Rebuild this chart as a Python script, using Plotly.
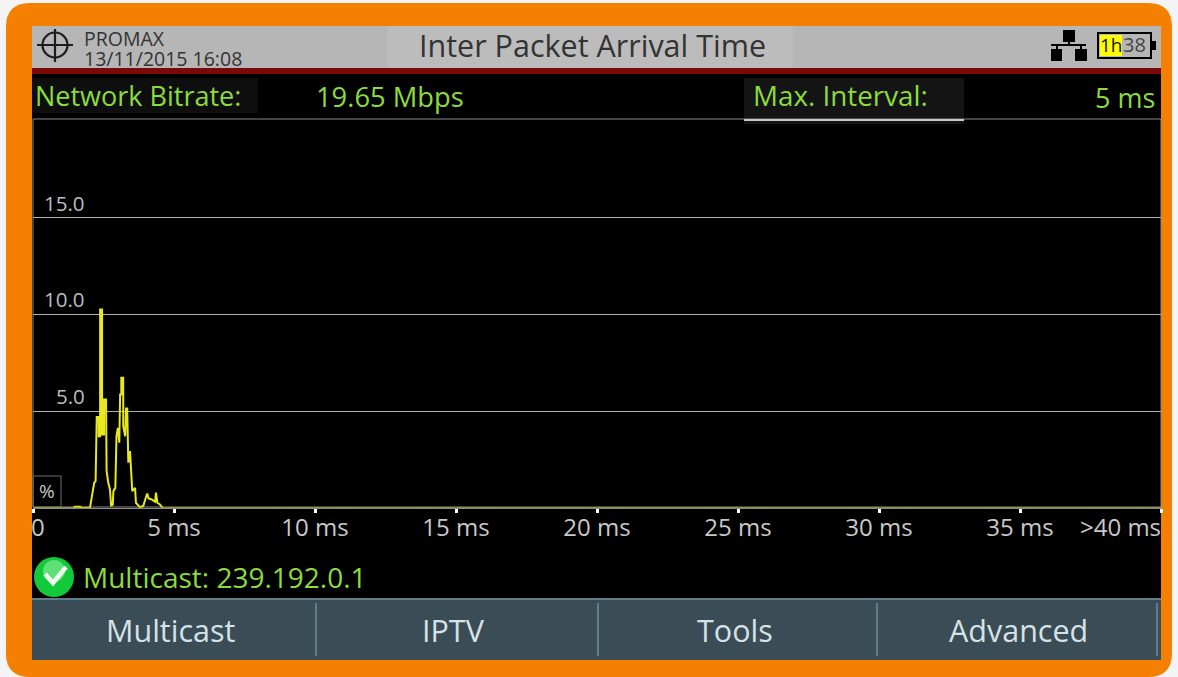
import plotly.graph_objects as go

W, H = 1178, 677
FONT = "Open Sans"
GREEN = "#8bdc3c"

delay_ms = [1.43, 1.49, 1.67, 1.73, 2.02, 2.06, 2.12, 2.17, 2.22, 2.26, 2.26, 2.33, 2.33, 2.38, 2.38, 2.45, 2.45,
            2.52, 2.52, 2.59, 2.59, 2.61, 2.67, 2.73, 2.77, 2.83, 2.85, 2.92, 2.96, 3.01, 3.06, 3.09, 3.13, 3.13,
            3.20, 3.20, 3.27, 3.30, 3.34, 3.38, 3.44, 3.48, 3.52, 3.62, 3.65, 3.79, 3.91, 4.00, 4.05, 4.10, 4.21,
            4.33, 4.36, 4.41, 4.50, 4.59]
percent = [0, 0.05, 0.05, 0, 0, 0.34, 0.78, 1.29, 1.38, 3.62, 4.69, 4.69, 3.70, 3.70, 10.25, 10.25, 3.79,
           3.79, 5.60, 5.60, 3.45, 1.90, 1.29, 0.95, 0.09, 0.17, 0.86, 1.03, 3.70, 4.13, 3.36, 5.86, 5.86, 6.72,
           6.72, 4.22, 3.70, 5.13, 5.13, 2.33, 2.93, 1.64, 0.86, 1.03, 0.26, 0.03, 0.09, 0.52, 0.74, 0.48, 0.43,
           0.31, 0.78, 0.26, 0.17, 0]
baseline_ms = [0, 1.43, None, 4.59, 40]
baseline_percent = [0, 0, None, 0, 0]
tick_vals = [5, 10, 15, 20, 25, 30, 35]
tick_text = ["5 ms", "10 ms", "15 ms", "20 ms", "25 ms", "30 ms", "35 ms"]
y_ticks = [5, 10, 15]
y_labels = ["5.0", "10.0", "15.0"]
menu_labels = ["Multicast", "IPTV", "Tools", "Advanced"]
menu_centres = [171, 454, 735, 1018]
menu_separators = [316, 598, 877, 1157]


def X(p):
    return p / W


def Y(p):
    return 1 - p / H


def rect(x0, y0, x1, y1, fill, line=None, lw=1, layer="below"):
    return dict(type="rect", xref="paper", yref="paper", x0=X(x0), x1=X(x1), y0=Y(y0), y1=Y(y1),
                fillcolor=fill, line=dict(color=line or fill, width=lw if line else 0), layer=layer)


def seg(x0, y0, x1, y1, color, lw=1, layer="below"):
    return dict(type="line", xref="paper", yref="paper", x0=X(x0), x1=X(x1), y0=Y(y0), y1=Y(y1),
                line=dict(color=color, width=lw), layer=layer)


def circle(cx, cy, r, fill, line=None, lw=1, layer="above"):
    return dict(type="circle", xref="paper", yref="paper", x0=X(cx - r), x1=X(cx + r), y0=Y(cy + r), y1=Y(cy - r),
                fillcolor=fill, line=dict(color=line or fill, width=lw if line else 0), layer=layer)


def rounded(x0, y0, x1, y1, r, fill):
    def P(a, b):
        return f"{X(a)} {Y(b)}"
    path = (f"M {P(x0 + r, y0)} L {P(x1 - r, y0)} Q {P(x1, y0)} {P(x1, y0 + r)} "
            f"L {P(x1, y1 - r)} Q {P(x1, y1)} {P(x1 - r, y1)} L {P(x0 + r, y1)} "
            f"Q {P(x0, y1)} {P(x0, y1 - r)} L {P(x0, y0 + r)} Q {P(x0, y0)} {P(x0 + r, y0)} Z")
    return dict(type="path", xref="paper", yref="paper", path=path, fillcolor=fill, line=dict(width=0), layer="below")


def label(x, y, text, size, color, anchor="left", font=FONT):
    return dict(xref="paper", yref="paper", x=X(x), y=Y(y), text=text, showarrow=False, xanchor=anchor,
                yanchor="middle", font=dict(family=font, size=size, color=color), borderpad=0)


shapes = [
    rounded(6, 3, 1172, 677, 24, "#f47f00"),
    rect(32, 26, 1161, 68, "#b6b6b6"),
    rect(387, 26, 793, 70, "#bcbcbc"),
    rect(32, 68, 1161, 74, "#7a0a0a"),
    rect(32, 74, 1161, 598, "#000000"),
    rect(32, 78, 258, 113, "#0e0e0e"),
    rect(744, 78, 964, 124, "#141414"),
    rect(32, 598, 1161, 660, "#3a4c55"),
    seg(32, 599, 1161, 599, "#5f7d8b", 2),
    rect(33, 119, 1161, 507, "rgba(0,0,0,0)", "#8a8a8a", 1),
    seg(744, 120, 964, 120, "#c8c8c8", 2),
    rect(33, 476, 61, 507, "rgba(0,0,0,0)", "#6e6e6e", 1),
    # crosshair icon
    circle(55, 45, 12.5, "rgba(0,0,0,0)", "#1c1c1c", 2.2),
    seg(55, 29, 55, 62, "#1c1c1c", 2.2, "above"),
    seg(37, 45, 73, 45, "#1c1c1c", 2.2, "above"),
    # network icon
    rect(1063, 30, 1075, 42, "#000000", layer="above"),
    rect(1051, 49, 1062, 61, "#000000", layer="above"),
    rect(1075, 49, 1087, 61, "#000000", layer="above"),
    seg(1069, 42, 1069, 45, "#000000", 2, "above"),
    seg(1051, 45, 1086, 45, "#000000", 2, "above"),
    seg(1057, 45, 1057, 49, "#000000", 2, "above"),
    seg(1081, 45, 1081, 49, "#000000", 2, "above"),
    # battery icon
    rect(1098, 33, 1151, 58, "#b6b6b6", "#000000", 2, "above"),
    rect(1100, 35, 1122, 56, "#ffff00", layer="above"),
    rect(1151, 41, 1156, 50, "#000000", layer="above"),
    # status icon
    circle(54, 577, 20, "#12c93a"),
    circle(54, 571, 11, "#5fe074"),
    dict(type="path", xref="paper", yref="paper",
         path=f"M {X(45)} {Y(574)} L {X(53)} {Y(583)} L {X(66)} {Y(567)}",
         line=dict(color="#f0fff0", width=4.5), fillcolor="rgba(0,0,0,0)", layer="above"),
]
shapes += [seg(s, 603, s, 656, "#5f7d8b", 2) for s in menu_separators]

annotations = [
    label(83, 38, "PROMAX", 19.5, "#333333"),
    label(83, 58, "13/11/2015 16:08", 19.5, "#333333"),
    label(592, 45, "Inter Packet Arrival Time", 30.5, "#333333", "center"),
    label(1099, 45, "1h", 19, "#111111"),
    label(1122, 45, "38", 20, "#444444"),
    label(34, 95, "Network Bitrate:", 27, GREEN),
    label(315, 96, "19.65 Mbps", 27.3, GREEN),
    label(752, 95, "Max. Interval:", 27.8, GREEN),
    label(1156, 97, "5 ms", 27, GREEN, "right"),
    label(47, 491, "%", 19, "#c8c8c8", "center"),
    label(82, 577, "Multicast: 239.192.0.1", 28, GREEN),
    label(38, 526, "0", 24, "#c8c8c8", "center"),
    label(1162, 526, "&gt;40 ms", 24, "#c8c8c8", "right"),
]
for v, t in zip(y_ticks, y_labels):
    annotations.append(dict(xref="paper", yref="y", x=X(87), y=v, text=t, showarrow=False, xanchor="right",
                            yanchor="bottom", yshift=-1, font=dict(family=FONT, size=20.5, color="#bdbdbd")))
for c, t in zip(menu_centres, menu_labels):
    annotations.append(label(c, 630, t, 30.5, "#d6e2e6", "center"))

fig = go.Figure([
    go.Scatter(x=baseline_ms, y=baseline_percent, mode="lines", cliponaxis=False,
               line=dict(color="#a8a83a", width=1.4), hoverinfo="skip"),
    go.Scatter(x=delay_ms, y=percent, mode="lines", cliponaxis=False,
               line=dict(color="#e8e820", width=2), hoverinfo="skip"),
])
fig.update_layout(
    width=W, height=H, margin=dict(l=0, r=0, t=0, b=0), autosize=False, showlegend=False,
    paper_bgcolor="#f4f4f4", plot_bgcolor="rgba(0,0,0,0)", shapes=shapes, annotations=annotations,
    xaxis=dict(domain=[X(33), X(1161)], range=[0, 40], tickmode="array", tickvals=[0] + tick_vals + [40],
               ticktext=[""] + tick_text + [""], ticks="outside", ticklen=4, tickwidth=3, tickcolor="#ffffff",
               showgrid=False, zeroline=False, showline=True, linecolor="#8a8a8a", linewidth=1,
               tickfont=dict(family=FONT, size=24, color="#c8c8c8"), fixedrange=True, ticklabelstandoff=-6),
    yaxis=dict(domain=[Y(507.8), Y(120.8)], range=[0, 20], tickmode="array", tickvals=y_ticks, showticklabels=False,
               ticks="", showgrid=True, gridcolor="#b0b0b0", gridwidth=1, zeroline=False, showline=False,
               fixedrange=True),
)
fig.write_html("out.html", config=dict(displayModeBar=False),
               post_script="document.body.style.margin='0';document.documentElement.style.overflow='hidden';")
